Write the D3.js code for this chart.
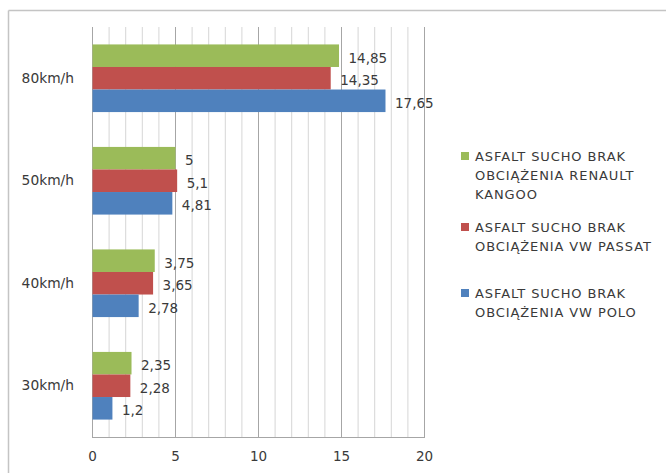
<!DOCTYPE html>
<html>
<head>
<meta charset="utf-8">
<script src="https://cdn.jsdelivr.net/npm/d3@7/dist/d3.min.js"></script>
<style>
  html, body { margin: 0; padding: 0; background: #fff; }
  svg { display: block; font-family: "DejaVu Sans", Verdana, sans-serif; }
</style>
</head>
<body>
<svg id="chart" width="666" height="473"></svg>
<script>
// Speed categories (drawn top to bottom)
const categories = ["80km/h", "50km/h", "40km/h", "30km/h"];

// Series names, shown in the legend
const seriesNames = [
  ["ASFALT SUCHO BRAK", "OBCIĄŻENIA RENAULT", "KANGOO"],
  ["ASFALT SUCHO BRAK", "OBCIĄŻENIA VW PASSAT"],
  ["ASFALT SUCHO BRAK", "OBCIĄŻENIA VW POLO"]
];

// Values per series, in the same order as categories
const kangoo = [14.85, 5, 3.75, 2.35];
const passat = [14.35, 5.1, 3.65, 2.28];
const polo   = [17.65, 4.81, 2.78, 1.2];

const xTicks = [0, 5, 10, 15, 20];

const colors = ["#9BBB59", "#C0504D", "#4F81BD"];
const seriesValues = [kangoo, passat, polo];

const textColor = "#3a3a3a";
const svg = d3.select("#chart");

// Outer chart frame (top and left edges visible)
svg.append("line").attr("x1", 8.5).attr("x2", 666).attr("y1", 10.5).attr("y2", 10.5)
  .attr("stroke", "#c4c4c4").attr("stroke-width", 1.5);
svg.append("line").attr("x1", 8.5).attr("x2", 8.5).attr("y1", 10.5).attr("y2", 473)
  .attr("stroke", "#c4c4c4").attr("stroke-width", 1.5);

const plot = { left: 92, right: 424, top: 27, bottom: 437 };

const x = d3.scaleLinear().domain([0, 20]).range([plot.left, plot.right]);
const y = d3.scaleBand().domain(categories).range([plot.top, plot.bottom]).paddingInner(0.34).paddingOuter(0.17);
const ySub = d3.scaleBand().domain([0, 1, 2]).range([0, y.bandwidth()]);

const g = svg.append("g");

// Gridlines: minor every 1, major every 5
const minor = d3.range(1, 20).filter(v => v % 5 !== 0);
g.selectAll("line.minor").data(minor).join("line")
  .attr("class", "minor")
  .attr("x1", d => x(d) + 0.5).attr("x2", d => x(d) + 0.5)
  .attr("y1", plot.top).attr("y2", plot.bottom)
  .attr("stroke", "#d6d6d6").attr("stroke-width", 1);
g.selectAll("line.major").data(xTicks.slice(1)).join("line")
  .attr("class", "major")
  .attr("x1", d => x(d) + 0.5).attr("x2", d => x(d) + 0.5)
  .attr("y1", plot.top).attr("y2", plot.bottom)
  .attr("stroke", "#a6a6a6").attr("stroke-width", 1);

// Axis lines
g.append("line").attr("x1", x(0) + 0.5).attr("x2", x(0) + 0.5)
  .attr("y1", plot.top).attr("y2", plot.bottom)
  .attr("stroke", "#a6a6a6");
g.append("line").attr("x1", x(0)).attr("x2", x(20) + 1)
  .attr("y1", plot.bottom + 0.5).attr("y2", plot.bottom + 0.5)
  .attr("stroke", "#a6a6a6");

// X tick labels
const xAxis = d3.axisBottom(x).tickValues(xTicks).tickSize(0).tickPadding(14);
const xg = svg.append("g").attr("transform", `translate(0,${plot.bottom})`).call(xAxis);
xg.select(".domain").remove();
xg.selectAll("text").attr("font-size", 13.5).attr("fill", textColor)
  .attr("font-family", "DejaVu Sans, Verdana, sans-serif");

// Y category labels
const yAxis = d3.axisLeft(y).tickSize(0).tickPadding(18);
const yg = svg.append("g").attr("transform", `translate(${plot.left},0)`).call(yAxis);
yg.select(".domain").remove();
yg.selectAll("text").attr("font-size", 13.8).attr("fill", textColor)
  .attr("font-family", "DejaVu Sans, Verdana, sans-serif");

// Bars and value labels
const fmt = v => String(v).replace(".", ",");
seriesValues.forEach((vals, si) => {
  const sg = svg.append("g");
  sg.selectAll("rect").data(vals).join("rect")
    .attr("x", x(0) + 0.5)
    .attr("y", (d, i) => y(categories[i]) + ySub(si))
    .attr("width", d => x(d) - x(0))
    .attr("height", ySub.bandwidth())
    .attr("fill", colors[si]);
  sg.selectAll("text").data(vals).join("text")
    .attr("x", d => x(d) + 10)
    .attr("y", (d, i) => y(categories[i]) + ySub(si) + ySub.bandwidth() / 2 + 2)
    .attr("dominant-baseline", "central")
    .attr("font-size", 13.5).attr("fill", textColor)
    .text(d => fmt(d));
});

// Legend
const legendTop = [156, 227, 293];
const legend = svg.append("g");
seriesNames.forEach((lines, si) => {
  legend.append("rect")
    .attr("x", 461).attr("y", legendTop[si] - 4)
    .attr("width", 8).attr("height", 8)
    .attr("fill", colors[si]);
  lines.forEach((t, li) => {
    legend.append("text")
      .attr("x", 475).attr("y", legendTop[si] + li * 19)
      .attr("dominant-baseline", "central")
      .attr("font-size", 13).attr("fill", textColor)
      .attr("letter-spacing", 0.9)
      .text(t);
  });
});
</script>
</body>
</html>
